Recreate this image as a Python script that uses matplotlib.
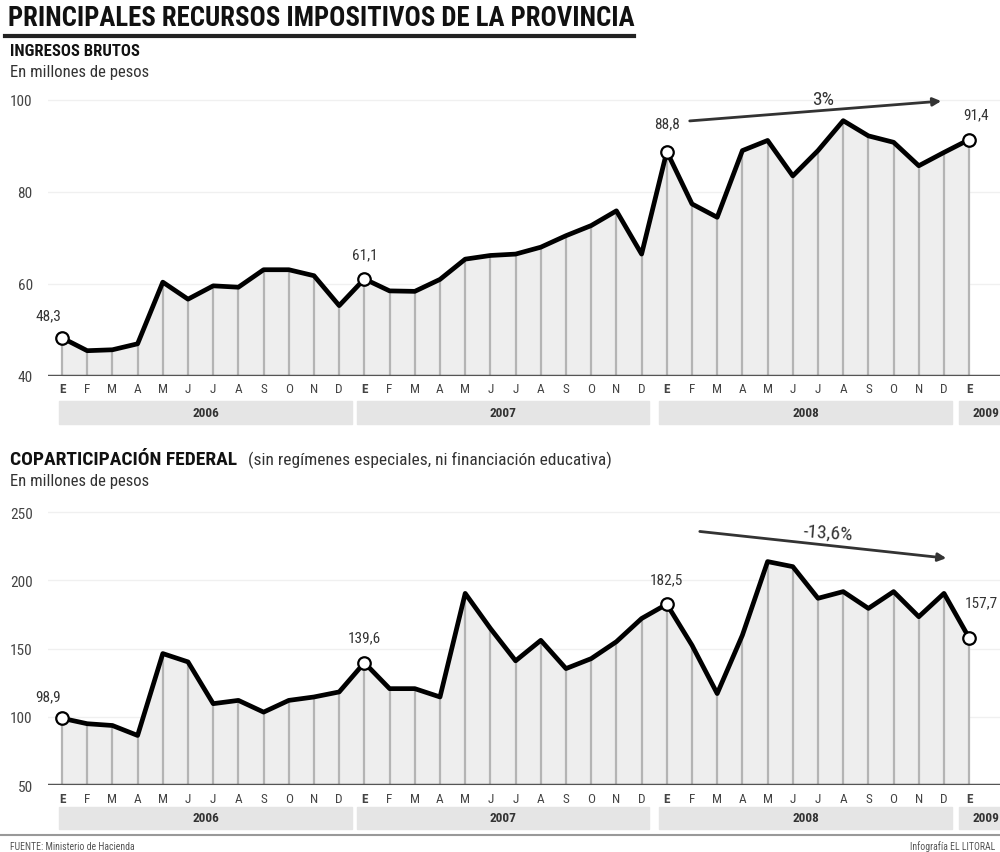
# Principales recursos impositivos de la provincia - dos paneles mensuales

import numpy as np
import matplotlib
matplotlib.use('Agg')
import matplotlib.pyplot as plt
from matplotlib import font_manager
from matplotlib.patches import Rectangle
from matplotlib.transforms import blended_transform_factory

# datos (en millones de pesos), ene-2006 a ene-2009
meses = ['E','F','M','A','M','J','J','A','S','O','N','D']*3 + ['E']
anios = ['2006', '2007', '2008', '2009']
ingresos = [48.3, 45.5, 45.7, 47.0, 60.4, 56.7, 59.6, 59.3, 63.1, 63.1, 61.8, 55.3,
            61.1, 58.5, 58.4, 61.0, 65.4, 66.2, 66.5, 68.0, 70.5, 72.7, 75.9, 66.5,
            88.8, 77.4, 74.5, 89.0, 91.2, 83.5, 89.0, 95.5, 92.2, 90.8, 85.7, 88.6, 91.4]
copa = [98.9, 94.9, 93.6, 86.3, 146.3, 140.2, 109.6, 112.0, 103.4, 112.0, 114.5, 118.2,
        139.6, 120.6, 120.6, 114.5, 190.4, 164.7, 141.0, 156.0, 135.3, 142.6, 155.0, 172.0,
        182.5, 152.4, 117.0, 159.8, 213.7, 210.0, 186.8, 191.7, 179.4, 191.7, 173.3, 190.4, 157.7]
destacados = [0, 12, 24, 36]
etiq_ingresos = ['48,3', '61,1', '88,8', '91,4']
etiq_copa = ['98,9', '139,6', '182,5', '157,7']


def pick(names):
    for n in names:
        try:
            font_manager.findfont(n, fallback_to_default=False)
            return n
        except ValueError:
            pass
    return 'DejaVu Sans'

fam = pick(['Liberation Sans Narrow', 'Roboto Condensed', 'Liberation Sans'])
plt.rcParams['font.family'] = [fam, 'DejaVu Sans']
plt.rcParams['font.stretch'] = 'condensed'

W, H = 1000, 853
fig = plt.figure(figsize=(10, 8.53), dpi=100)

def fy(py):  # pixel desde arriba -> fraccion de figura
    return 1 - py / H

x = np.arange(len(meses))
x0 = (48 - 62) / 25.2
x1 = (1000 - 62) / 25.2


def panel(top_px, base_px, ylim, ticks, vals, etiq, offs, mes_px, banda_px):
    ax = fig.add_axes([0.048, fy(base_px), 0.952, (base_px - top_px) / H])
    base = ylim[0]
    for t in ticks[1:]:
        ax.axhline(t, color='#f0f0f0', lw=1, zorder=0)
    ax.fill_between(x, base, vals, color='#eeeeee', zorder=1, lw=0)
    ax.vlines(x, base, vals, color='#b4b4b4', lw=1.6, zorder=2)
    ax.plot(x, vals, color='black', lw=3.4, solid_joinstyle='round', zorder=3)
    ax.axhline(base, color='#555555', lw=2.5, zorder=4)
    ax.plot(x[destacados], np.array(vals)[destacados], 'o', ms=9, mfc='white',
            mec='black', mew=1.6, zorder=5, clip_on=False)
    for i, s, (dx, dy, ha) in zip(destacados, etiq, offs):
        ax.annotate(s, (x[i], vals[i]), xytext=(dx, dy), textcoords='offset points',
                    ha=ha, va='center', fontsize=11, color='#333333',
                    annotation_clip=False)
    ax.set_xlim(x0, x1)
    ax.set_ylim(ylim)
    ax.set_yticks(ticks)
    ax.set_yticklabels([str(t) for t in ticks], fontsize=11, color='#444444')
    ax.tick_params(axis='y', length=0, pad=11)
    ax.set_xticks([])
    for sp in ax.spines.values():
        sp.set_visible(False)
    tr = blended_transform_factory(ax.transData, fig.transFigure)
    for i, m in enumerate(meses):
        ax.text(x[i], fy(mes_px), m, transform=tr, ha='center', va='center',
                fontsize=9.5, color='#444444', fontweight='bold' if i % 12 == 0 else 'normal')
    tramos = [(-0.1, 11.5), (11.7, 23.3), (23.7, 35.3), (35.6, 37.3)]
    for (a, b), y in zip(tramos, anios):
        ax.add_patch(Rectangle((a, fy(banda_px[1])), b - a, (banda_px[1] - banda_px[0]) / H,
                               transform=tr, color='#e5e5e5', clip_on=False, zorder=0))
        xc = (a + b) / 2 if y != '2009' else 37.2
        ax.text(xc, fy((banda_px[0] + banda_px[1]) / 2), y, transform=tr,
                ha='center' if y != '2009' else 'right', va='center',
                fontsize=9.5, fontweight='bold', color='#333333')
    return ax

# panel superior: ingresos brutos
ax1 = panel(95, 377, (40, 101.3), [40, 60, 80, 100], ingresos, etiq_ingresos,
            [(-10, 16, 'center'), (0, 18, 'center'), (0, 20, 'center'), (5, 18, 'center')],
            390, (402, 425))
ax1.annotate('', xy=(35.0, 99.8), xytext=(24.8, 95.4),
             arrowprops=dict(arrowstyle='-|>', color='#333333', lw=2, mutation_scale=12),
             annotation_clip=False)
ax1.text(30.2, 100.2, '3%', ha='center', va='center', fontsize=14, color='#333333')

# panel inferior: coparticipacion federal
ax2 = panel(505, 786, (50, 255.9), [50, 100, 150, 200, 250], copa, etiq_copa,
            [(-10, 16, 'center'), (0, 18, 'center'), (0, 18, 'center'), (21, 26, 'right')],
            800, (808, 830))
ax2.annotate('', xy=(35.2, 216), xytext=(25.2, 236),
             arrowprops=dict(arrowstyle='-|>', color='#333333', lw=2, mutation_scale=12),
             annotation_clip=False)
ax2.text(30.4, 235, '-13,6%', ha='center', va='center', fontsize=14, color='#333333',
         rotation=-4)

# textos de cabecera
fig.text(0.008, fy(19), 'PRINCIPALES RECURSOS IMPOSITIVOS DE LA PROVINCIA', fontsize=19.3,
         fontweight='bold', color='#111111', va='center', ha='left')
fig.add_artist(plt.Line2D([0.005, 0.634], [fy(37), fy(37)], color='#222222', lw=3))
fig.text(0.01, fy(52), 'INGRESOS BRUTOS', fontsize=12, fontweight='bold', color='#111111',
         va='center')
fig.text(0.01, fy(73), 'En millones de pesos', fontsize=12, color='#333333', va='center')
fig.text(0.01, fy(460), 'COPARTICIPACIÓN FEDERAL', fontsize=14, fontweight='bold',
         color='#111111', va='center')
fig.text(0.248, fy(460), '(sin regímenes especiales, ni financiación educativa)', fontsize=12.5,
         color='#333333', va='center')
fig.text(0.01, fy(482), 'En millones de pesos', fontsize=12, color='#333333', va='center')

# pie
fig.add_artist(plt.Line2D([0, 1], [fy(836), fy(836)], color='#999999', lw=1.5))
fig.text(0.01, fy(847), 'FUENTE: Ministerio de Hacienda', fontsize=7, color='#555555', va='center')
fig.text(0.995, fy(847), 'Infografía EL LITORAL', fontsize=7, color='#555555', va='center',
         ha='right')

fig.savefig('out.png', dpi=100)
